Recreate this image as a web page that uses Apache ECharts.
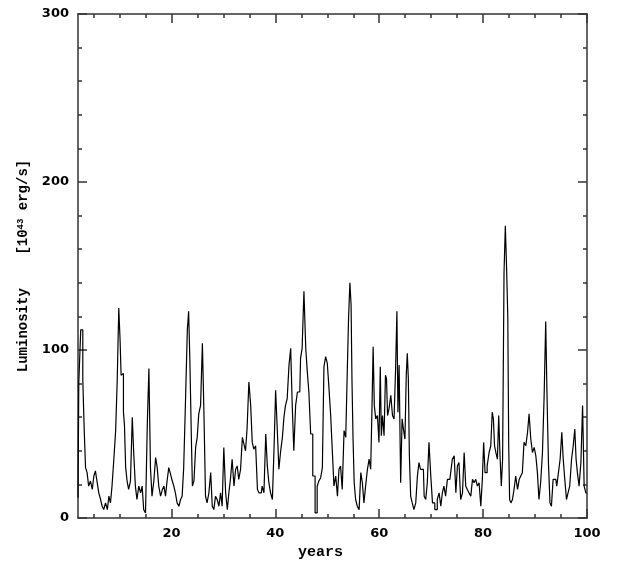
<!DOCTYPE html>
<html><head><meta charset="utf-8">
<script src="https://cdn.jsdelivr.net/npm/echarts@6/dist/echarts.min.js"></script>
<style>html,body{margin:0;padding:0;background:#fff}#c{width:623px;height:562px}</style>
</head><body><div id="c"></div>
<script>
const years = [2.0,2.3,2.75,3.1,3.3,3.6,3.9,4.2,4.6,4.9,5.2,5.5,5.8,6.2,6.5,6.8,7.1,7.5,7.8,8.1,8.4,8.7,9.1,9.4,9.7,10.0,10.2,10.4,10.65,10.85,11.05,11.3,11.6,11.9,12.3,12.6,12.9,13.2,13.5,13.9,14.2,14.5,14.8,15.2,15.5,15.8,16.1,16.4,16.8,17.1,17.4,17.7,18.1,18.4,18.7,19.0,19.3,19.65,20.0,20.3,20.6,20.9,21.25,21.6,21.9,22.2,22.5,22.9,23.2,23.4,23.7,23.9,24.15,24.5,24.8,25.1,25.4,25.8,26.1,26.4,26.7,27.0,27.4,27.7,28.0,28.3,28.65,28.95,29.3,29.6,29.9,30.25,30.6,30.9,31.2,31.5,31.85,32.2,32.5,32.8,33.1,33.5,33.8,34.1,34.4,34.7,35.1,35.4,35.7,36.0,36.4,36.7,37.0,37.3,37.6,38.0,38.3,38.6,38.9,39.25,39.6,39.9,40.2,40.5,40.85,41.2,41.5,41.8,42.1,42.45,42.8,43.1,43.4,43.7,44.1,44.4,44.7,45.0,45.3,45.7,46.0,46.3,46.6,47.0,47.4,47.9,48.2,48.55,48.9,49.2,49.5,49.85,50.15,50.5,50.8,51.1,51.45,51.8,52.1,52.4,52.7,53.05,53.4,53.7,54.0,54.2,54.5,54.65,54.85,55.05,55.3,55.6,55.95,56.3,56.6,56.9,57.2,57.55,57.9,58.2,58.5,58.7,58.95,59.15,59.5,59.8,60.1,60.3,60.5,60.75,61.1,61.3,61.5,61.7,62.05,62.4,62.7,63.0,63.3,63.5,63.7,63.95,64.3,64.5,64.8,65.1,65.3,65.5,65.7,65.9,66.2,66.5,66.85,67.2,67.5,67.8,68.1,68.5,68.8,69.1,69.4,69.75,70.1,70.4,71.0,71.35,71.7,72.0,72.3,72.6,72.95,73.3,73.6,73.9,74.25,74.6,74.9,75.2,75.5,75.85,76.2,76.5,76.8,77.1,77.45,77.8,78.1,78.4,78.75,79.05,79.4,79.7,80.0,80.2,80.55,81.0,81.3,81.65,81.85,82.1,82.3,82.6,82.9,83.1,83.4,83.6,83.9,84.15,84.4,84.65,84.85,85.0,85.2,85.5,85.8,86.1,86.45,86.8,87.1,87.4,87.7,88.05,88.4,88.7,89.0,89.35,89.65,90.0,90.3,90.6,90.9,91.25,91.6,91.9,92.2,92.4,92.75,93.0,93.3,93.65,94.0,94.35,94.65,95.0,95.3,95.55,95.9,96.2,96.5,96.85,97.2,97.5,97.8,98.0,98.3,98.65,99.0,99.3,99.6,99.95];
const luminosity = [12,80,112,82,52,30,27,19,22,17,25,28,22,15,11,7,5,9,5,13,9,19,35,52,82,125,106,85,86,63,55,30,22,17,22,60,37,19,11,19,15,19,5,3,57,89,30,13,22,36,30,19,13,17,19,13,22,30,26,22,19,15,9,7,11,13,30,70,112,123,92,52,19,22,42,48,62,67,104,62,13,9,15,27,7,5,13,11,7,15,7,42,15,5,15,23,35,19,29,31,23,29,48,44,40,53,81,67,45,41,43,17,15,15,19,15,50,31,21,15,11,42,76,54,29,40,48,60,67,71,91,101,67,40,67,75,75,95,101,135,101,87,75,50,25,3,19,22,24,30,90,96,92,77,61,41,19,25,13,29,31,17,52,48,88,120,140,127,82,48,21,11,7,5,27,21,9,19,29,35,29,65,102,67,59,61,45,90,49,61,49,85,83,61,65,73,61,59,89,123,63,91,21,59,53,47,85,98,83,37,13,9,5,9,25,33,29,29,13,11,21,45,25,9,5,11,15,7,15,19,13,23,23,27,35,37,15,31,33,11,15,39,19,17,15,13,23,21,23,19,21,7,23,45,27,31,39,43,63,59,43,39,35,61,37,19,35,146,174,148,120,43,11,9,11,17,25,17,23,25,27,45,43,51,62,47,39,42,37,27,11,21,39,73,117,73,33,9,7,23,23,19,27,35,51,35,23,11,15,19,35,43,53,35,27,19,33,67,19,15];
const xLabelValues = [20,40,60,80,100];
const xMinorValues = [5,10,15,25,30,35,45,50,55,65,70,75,85,90,95];
const yMin = 0, yMax = 300, yStep = 100;
const xMin = 2, xMax = 100;

const axisColor = '#333';
const labelFont = {fontFamily:'DejaVu Sans', fontWeight:'bold', fontSize:13, color:'#000'};
const titleFont = {fontFamily:'Liberation Mono', fontWeight:'bold', fontSize:14, color:'#000'};
const gridBox = {left:78, right:36, top:14, bottom:44, containLabel:false, outerBoundsMode:'none'};

function xAx(g, pos, ticks, len, labels, line){
  return {type:'value', gridIndex:g, position:pos, min:xMin, max:xMax,
    axisLine:{show:line, onZero:false, lineStyle:{color:axisColor, width:1.5}},
    axisTick:{show:true, inside:true, length:len, customValues:ticks, lineStyle:{color:axisColor, width:1.5}},
    axisLabel:labels ? Object.assign({show:true, customValues:xLabelValues, margin:9}, labelFont) : {show:false},
    splitLine:{show:false}};
}
function yAx(g, pos, labels, visible){
  if (!visible) return {type:'value', gridIndex:g, position:pos, min:yMin, max:yMax, show:false};
  return {type:'value', gridIndex:g, position:pos, min:yMin, max:yMax, interval:yStep,
    axisLine:{show:true, onZero:false, lineStyle:{color:axisColor, width:1.5}},
    axisTick:{show:true, inside:true, length:9, lineStyle:{color:axisColor, width:1.5}},
    minorTick:{show:true, splitNumber:5, length:4, lineStyle:{color:axisColor, width:1.5}},
    axisLabel:labels ? Object.assign({show:true, margin:9}, labelFont) : {show:false},
    splitLine:{show:false}, minorSplitLine:{show:false}};
}

const xAxes = [
  xAx(0, 'bottom', xLabelValues, 9, true, true),
  xAx(1, 'top', xLabelValues, 9, false, true),
  xAx(2, 'bottom', xMinorValues, 4, false, false),
  xAx(3, 'top', xMinorValues, 4, false, false)
];
xAxes[0].name = 'years';
xAxes[0].nameLocation = 'middle';
xAxes[0].nameGap = 25;
xAxes[0].nameTextStyle = Object.assign({}, titleFont, {fontSize:15, padding:[0,24,0,0]});

const yAxes = [yAx(0,'left', true, true), yAx(1,'right', false, true), yAx(2,'left',false,false), yAx(3,'left',false,false)];
yAxes[0].name = 'Luminosity    [10{sup|43} erg/s]';
yAxes[0].nameLocation = 'middle';
yAxes[0].nameGap = 41;
yAxes[0].nameTextStyle = Object.assign({}, titleFont, {rich:{sup:{fontFamily:'Liberation Mono', fontWeight:'bold', fontSize:9, color:'#000', verticalAlign:'top', padding:[0,0,7,0]}}});

const chart = echarts.init(document.getElementById('c'), null, {renderer:'canvas'});
chart.setOption({
  animation:false,
  backgroundColor:'#fff',
  grid:[gridBox, gridBox, gridBox, gridBox],
  xAxis:xAxes,
  yAxis:yAxes,
  series:[{type:'line', xAxisIndex:0, yAxisIndex:0, step:'middle', symbol:'none',
    lineStyle:{color:'#000', width:1.2},
    data:years.map((y,i)=>[y, luminosity[i]])}]
});
</script></body></html>
